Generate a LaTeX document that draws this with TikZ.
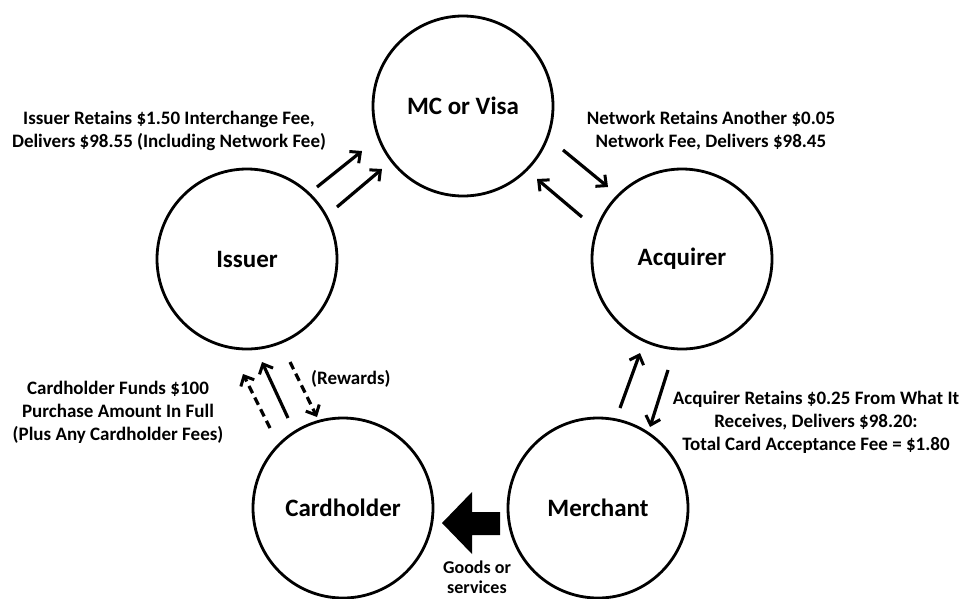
\documentclass[tikz,border=0pt]{standalone}
\usepackage{fontspec}
\setmainfont{Carlito}
\usetikzlibrary{arrows.meta, positioning, calc}
\tikzset{
    partyNode/.style={
        circle,
        draw=black,
        line width=2.8pt,
        minimum size=180pt,
        inner sep=0pt,
        font=\bfseries\fontsize{25}{28}\selectfont
    },
    flowLine/.style={
        -{Straight Barb[length=8pt, width=15pt, line width=3pt]},
        line width=3.2pt
    },
    rewardLine/.style={
        flowLine,
        dash pattern=on 8pt off 5pt
    },
    noteText/.style={
        align=center,
        inner sep=0pt,
        font=\bfseries\fontsize{19}{23}\selectfont
    }
}

\begin{document}
\begin{tikzpicture}[x=1pt, y=-1pt]
        \useasboundingbox (0,0) rectangle (961,598);

        % Parties
        \node[partyNode] (mcVisa)     at (463, 106) {MC or Visa};
        \node[partyNode] (issuer)     at (247, 259) {Issuer};
        \node[partyNode] (acquirer)   at (682, 259) {Acquirer};
        \node[partyNode] (cardholder) at (343, 508) {Cardholder};
        \node[partyNode] (merchant)   at (598, 508) {Merchant};

        % Arrow end points
        \coordinate (IM1s) at (317, 187);  \coordinate (IM1e) at (362, 151);
        \coordinate (IM2s) at (337, 207);  \coordinate (IM2e) at (382, 169);
        \coordinate (MAs)  at (563, 150);  \coordinate (MAe)  at (608, 187);
        \coordinate (AMs)  at (582, 217);  \coordinate (AMe)  at (537, 179);
        \coordinate (MeAs) at (620, 408);  \coordinate (MeAe) at (640, 353);
        \coordinate (AMes) at (668, 370);  \coordinate (AMee) at (650, 427);
        \coordinate (CI1s) at (270, 428);  \coordinate (CI1e) at (243, 374);
        \coordinate (CI2s) at (288, 418);  \coordinate (CI2e) at (262, 362);
        \coordinate (ICs)  at (290, 362);  \coordinate (ICe)  at (317, 417);

        % Flows
        \draw[flowLine] (IM1s) -- (IM1e);
        \draw[flowLine] (IM2s) -- (IM2e);
        \draw[flowLine] (MAs) -- (MAe);
        \draw[flowLine] (AMs) -- (AMe);
        \draw[flowLine] (MeAs) -- (MeAe);
        \draw[flowLine] (AMes) -- (AMee);
        \draw[rewardLine] (CI1s) -- (CI1e);
        \draw[flowLine] (CI2s) -- (CI2e);
        \draw[rewardLine] (ICs) -- (ICe);

        % Goods arrow (Merchant to Cardholder)
        \coordinate (goodsTip) at (442, 523);
        \fill (goodsTip) -- ++(30, -31) -- ++(0, 20) -- ++(28, 0) -- ++(0, 23)
              -- ++(-28, 0) -- ++(0, 19) -- cycle;

        % Notes
        \node[noteText] (issuerNote) at (169, 131)
            {Issuer Retains \$1.50 Interchange Fee,\\Delivers \$98.55 (Including Network Fee)};
        \node[noteText] (networkNote) at (711, 131)
            {Network Retains Another \$0.05\\Network Fee, Delivers \$98.45};
        \node[noteText] (cardNote) at (118, 412)
            {Cardholder Funds \$100\\Purchase Amount In Full\\(Plus Any Cardholder Fees)};
        \node[noteText] (acqNote) at (816, 422)
            {Acquirer Retains \$0.25 From What It\\Receives, Delivers \$98.20:\\Total Card Acceptance Fee = \$1.80};
        \node[noteText, anchor=west] (rewardNote) at (311, 379) {(Rewards)};
        \node[noteText, font=\bfseries\fontsize{18}{20}\selectfont] (goodsNote) at (477, 577)
            {Goods or\\services};

    \end{tikzpicture}
\end{document}
